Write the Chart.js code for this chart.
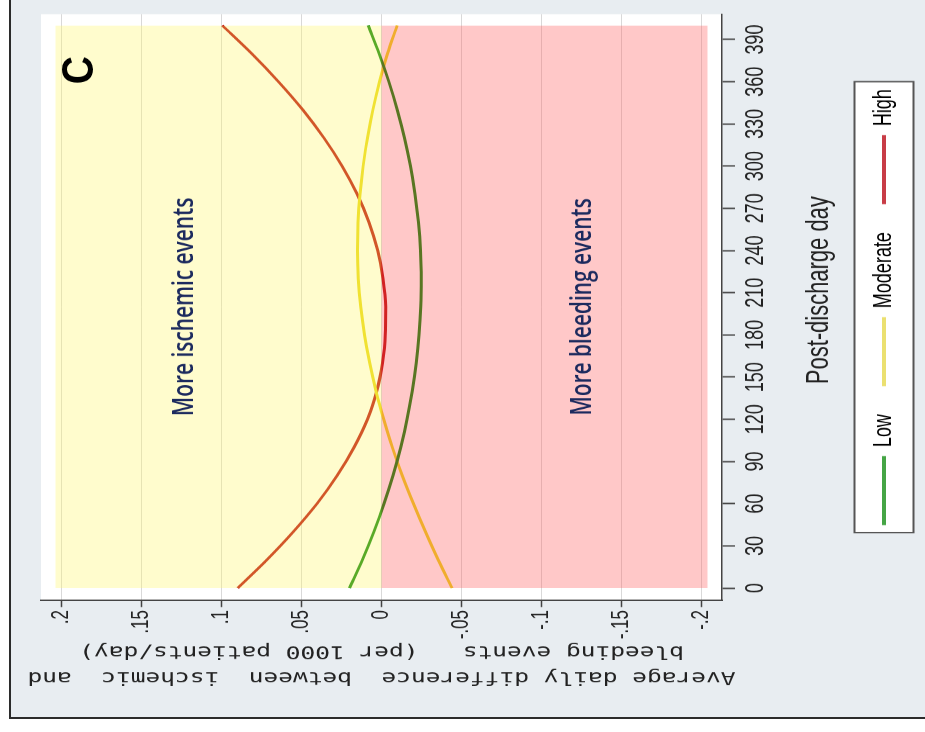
<!DOCTYPE html>
<html>
<head>
<meta charset="utf-8">
<title>Post-discharge daily difference by risk group</title>
<script src="https://cdn.jsdelivr.net/npm/chart.js@4"></script>
<style>
  html, body { margin: 0; padding: 0; background: #fff; overflow: hidden; }
  body { width: 925px; height: 732px; position: relative; }
  /* The figure is laid out upright (732 wide, 925 tall) and turned a quarter turn counter-clockwise. */
  #stage {
    position: absolute; left: 0; top: 0; width: 732px; height: 925px;
    transform-origin: 0 0; transform: translate(0, 732px) rotate(-90deg);
  }
  #frame {
    position: absolute; left: 13px; top: 9px; width: 719px; height: 916px;
    box-sizing: border-box; background: #e8edf1;
    border-left: 2.5px solid #2b2b2b; border-top: 2.5px solid #2b2b2b;
  }
  /* the chart is drawn wide and squeezed horizontally, giving the condensed lettering of the figure */
  #squeeze { position: absolute; left: 0; top: 0; transform-origin: 0 0; }
  #chart { display: block; }
</style>
</head>
<body>
<div id="stage">
  <div id="frame"></div>
  <div id="squeeze"><canvas id="chart"></canvas></div>
</div>
<script>
// ---- data ----
const days = [0, 20, 40, 60, 80, 100, 120, 140, 160, 180, 200, 220, 240, 260, 280, 300, 320, 340, 360, 380, 400];
const lowRisk = [0.0200, 0.0120, 0.0048, -0.0016, -0.0072, -0.0120, -0.0160, -0.0192, -0.0217, -0.0235, -0.0246, -0.0249, -0.0244, -0.0231, -0.0210, -0.0181, -0.0144, -0.0099, -0.0046, 0.0015, 0.0083];
const moderateRisk = [-0.0442, -0.0355, -0.0275, -0.0200, -0.0130, -0.0068, -0.0014, 0.0034, 0.0074, 0.0106, 0.0130, 0.0145, 0.0151, 0.0147, 0.0135, 0.0115, 0.0088, 0.0054, 0.0012, -0.0038, -0.0098];
const highRisk = [0.0900, 0.0718, 0.0552, 0.0404, 0.0278, 0.0172, 0.0088, 0.0030, -0.0006, -0.0024, -0.0026, -0.0010, 0.0024, 0.0078, 0.0152, 0.0246, 0.0360, 0.0492, 0.0644, 0.0812, 0.0996];
const seriesNames = ['Low', 'Moderate', 'High'];

const dayTicks = [0, 30, 60, 90, 120, 150, 180, 210, 240, 270, 300, 330, 360, 390];
const diffTicks = [0.2, 0.15, 0.1, 0.05, 0, -0.05, -0.1, -0.15, -0.2];
const diffTickLabels = ['.2', '.15', '.1', '.05', '0', '-.05', '-.1', '-.15', '-.2'];

// shaded zones either side of zero
const zoneDays = [0, 400];
const ischemicZone = [0.204, 0.204];
const bleedingZone = [-0.204, -0.204];

const noteTexts = ['More ischemic events', 'More bleeding events'];
const noteDays = [200, 200];
const noteDiffs = [0.123, -0.126];

const panelLetter = 'C';
const xTitle = 'Post-discharge day';
const yTitle = ['Average daily difference  between  ischemic  and', 'bleeding events   (per 1000 patients/day)'];

// ---- layout & styles ----
const SQUEEZE = 0.72;                 // horizontal condensing of the whole drawing
const sx = v => v / SQUEEZE;          // upright width in drawing units
const WIDTH = Math.round(sx(732));
const HEIGHT = 925;

const SANS = "'Liberation Sans', Arial, sans-serif";
const MONO = "'DejaVu Sans Mono', 'Liberation Mono', monospace";
const INK = '#222';
const AXIS = '#444';
const lineColors = ['#008100', '#e8d611', '#ba0002'];
const legendColors = ['#45a545', '#ebe070', '#c83c46'];
const LEGEND_FONT = 25;

const canvas = document.getElementById('chart');
canvas.width = WIDTH;
canvas.height = HEIGHT;
canvas.style.width = WIDTH + 'px';
canvas.style.height = HEIGHT + 'px';
document.getElementById('squeeze').style.transform = 'scaleX(' + (732 / WIDTH) + ')';

function diffLabel(v) {
  const i = diffTicks.findIndex(t => Math.abs(t - v) < 1e-9);
  return i >= 0 ? diffTickLabels[i] : '';
}

// white plot region and the boxed legend
const plotBackground = {
  id: 'plotBackground',
  beforeDraw(chart) {
    const { ctx, chartArea: a, legend } = chart;
    ctx.save();
    ctx.fillStyle = '#fff';
    ctx.fillRect(a.left, a.top, a.right - a.left, a.bottom - a.top);
    if (legend && legend.lineWidths) {
      const pad = legend.options.labels.padding;
      const total = legend.lineWidths[0];
      const x0 = (legend.left + pad + legend.right - total) / 2;
      const w = total - pad;
      const cy = legend.top + pad + LEGEND_FONT / 2;
      const m = sx(7.5);
      ctx.fillStyle = '#fff';
      ctx.fillRect(x0 - m, cy - 29.5, w + 2 * m, 59);
      ctx.strokeStyle = '#555';
      ctx.lineWidth = 2;
      ctx.strokeRect(x0 - m, cy - 29.5, w + 2 * m, 59);
    }
    ctx.restore();
  }
};

// zone captions, the day-axis title and the panel letter
const captions = {
  id: 'captions',
  afterDatasetsDraw(chart) {
    const { ctx, chartArea: a, scales: { x, y } } = chart;
    ctx.save();
    ctx.textAlign = 'center';
    ctx.textBaseline = 'middle';
    ctx.fillStyle = '#1c2a5e';
    ctx.font = "600 29px 'Open Sans', 'Noto Sans', sans-serif";
    noteTexts.forEach((t, i) => {
      ctx.fillText(t, x.getPixelForValue(noteDays[i]), y.getPixelForValue(noteDiffs[i]));
    });
    ctx.restore();

    ctx.save();
    ctx.fillStyle = INK;
    ctx.font = '30.5px ' + SANS;
    ctx.textAlign = 'center';
    ctx.textBaseline = 'alphabetic';
    ctx.fillText(xTitle, (a.left + a.right) / 2 + sx(17), a.bottom + 106);
    ctx.restore();

    ctx.save();
    ctx.fillStyle = '#000';
    ctx.textAlign = 'center';
    ctx.textBaseline = 'middle';
    ctx.font = "bold 45px 'Liberation Sans', Arial, sans-serif";
    ctx.translate(a.right - sx(56), a.top + 40);
    ctx.scale(1.2, 1);
    ctx.fillText(panelLetter, 0, 0);
    ctx.restore();
  }
};

const curveSets = [lowRisk, moderateRisk, highRisk].map((vals, i) => ({
  label: seriesNames[i],
  data: days.map((d, j) => ({ x: d, y: vals[j] })),
  borderColor: lineColors[i],
  borderWidth: 3,
  pointRadius: 0,
  cubicInterpolationMode: 'monotone',
  fill: false,
  order: 1
}));

const zoneSets = [
  { label: 'ischemic zone', values: ischemicZone, color: 'rgba(255, 246, 112, 0.35)' },
  { label: 'bleeding zone', values: bleedingZone, color: 'rgba(255, 98, 98, 0.35)' }
].map(z => ({
  label: z.label,
  data: zoneDays.map((d, j) => ({ x: d, y: z.values[j] })),
  backgroundColor: z.color,
  borderWidth: 0,
  pointRadius: 0,
  fill: { value: 0 },
  order: 0
}));

new Chart(canvas, {
  type: 'line',
  data: { datasets: [...curveSets, ...zoneSets] },
  plugins: [plotBackground, captions],
  options: {
    responsive: false,
    animation: false,
    devicePixelRatio: 1,
    events: [],
    layout: { padding: { left: 0, right: WIDTH - sx(718), top: 41, bottom: 18.5 } },
    plugins: {
      tooltip: { enabled: false },
      legend: {
        position: 'bottom',
        fullSize: false,
        align: 'center',
        labels: {
          boxWidth: sx(69),
          boxHeight: 4,
          padding: sx(28),
          color: INK,
          font: { family: SANS, size: LEGEND_FONT },
          generateLabels: () => seriesNames.map((n, i) => ({
            text: n, fillStyle: legendColors[i], strokeStyle: legendColors[i],
            lineWidth: 0, hidden: false, datasetIndex: i
          }))
        }
      }
    },
    scales: {
      x: {
        type: 'linear',
        min: -8.5,
        max: 408,
        afterBuildTicks: s => { s.ticks = dayTicks.map(v => ({ value: v })); },
        afterFit: s => { s.height = 110.6; },
        grid: { drawOnChartArea: false, drawTicks: true, tickLength: 13, tickColor: AXIS, tickWidth: 2 },
        border: { display: true, color: AXIS, width: 1.5 },
        ticks: { font: { family: SANS, size: 25 }, color: INK, padding: 6, maxRotation: 0, minRotation: 0, autoSkip: false },
        title: { display: false, text: xTitle }
      },
      y: {
        type: 'linear',
        min: -0.2131,
        max: 0.2131,
        afterBuildTicks: s => { s.ticks = diffTicks.map(v => ({ value: v })); },
        afterFit: s => { s.width = sx(132); },
        grid: { color: '#d9d9d9', lineWidth: 1, tickLength: sx(7), tickColor: AXIS, tickWidth: 1.5 },
        border: { display: true, color: AXIS, width: 2 },
        ticks: { font: { family: SANS, size: 23.5 }, color: INK, padding: sx(3), autoSkip: false, callback: v => diffLabel(v) },
        title: { display: true, text: yTitle, color: INK, font: { family: MONO, size: 24.5, lineHeight: sx(26) / 24.5 }, padding: { top: sx(55) - sx(13), bottom: 0 } }
      }
    }
  }
});
</script>
</body>
</html>
